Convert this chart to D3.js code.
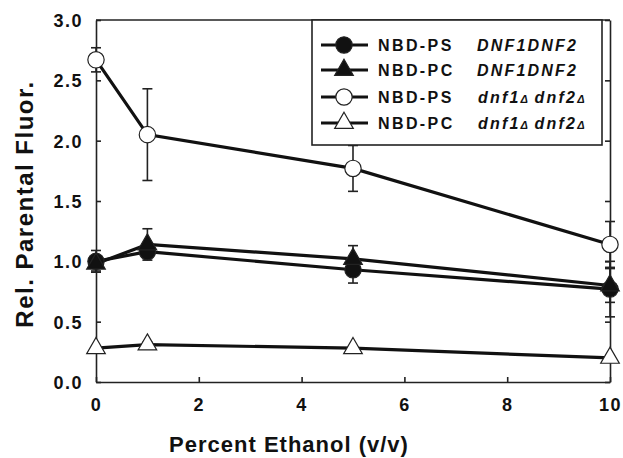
<!DOCTYPE html>
<html>
<head>
<meta charset="utf-8">
<script src="https://cdn.jsdelivr.net/npm/d3@7"></script>
<style>
  body { margin: 0; background: #fff; }
  text { font-family: "Liberation Sans", Arial, sans-serif; font-weight: bold; fill: #111; }
</style>
</head>
<body>
<div id="chart"></div>
<script>
// data
var ethanol = [0, 1, 5, 10];
var psWT = [1.00, 1.08, 0.93, 0.77];
var psWTErr = [0.09, 0.05, 0.11, 0.23];
var pcWT = [0.98, 1.14, 1.02, 0.80];
var pcWTErr = [0.06, 0.13, 0.11, 0.14];
var psMut = [2.67, 2.05, 1.77, 1.14];
var psMutErr = [0.10, 0.38, 0.19, 0.19];
var pcMut = [0.28, 0.31, 0.28, 0.20];
var pcMutErr = [0.02, 0.02, 0.02, 0.02];

var xTicks = [0, 2, 4, 6, 8, 10];
var yTicks = [0, 0.5, 1, 1.5, 2, 2.5, 3];

var series = [
  {name: "NBD-PS", strain: "DNF1DNF2", mut: false, values: psWT, err: psWTErr, shape: "circle", fill: "#111"},
  {name: "NBD-PC", strain: "DNF1DNF2", mut: false, values: pcWT, err: pcWTErr, shape: "triangle", fill: "#111"},
  {name: "NBD-PS", strain: "dnf1", mut: true, values: psMut, err: psMutErr, shape: "circle", fill: "#fff"},
  {name: "NBD-PC", strain: "dnf1", mut: true, values: pcMut, err: pcMutErr, shape: "triangle", fill: "#fff"}
];

// layout
var margin = {top: 20, right: 13, bottom: 76, left: 96},
    width = 623 - margin.left - margin.right,
    height = 458 - margin.top - margin.bottom;

var svg = d3.select("#chart")
  .append("svg")
    .attr("width", 623)
    .attr("height", 458)
  .append("g")
    .attr("transform", "translate(" + margin.left + "," + margin.top + ")");

var x = d3.scaleLinear().domain([0, 10]).range([0, width]);
var y = d3.scaleLinear().domain([0, 3]).range([height, 0]);

// axes, ticks pointing inward
var xAxis = svg.append("g")
  .attr("transform", "translate(0," + height + ")")
  .call(d3.axisBottom(x).tickValues(xTicks).tickSizeInner(-5).tickSizeOuter(0).tickPadding(16).tickFormat(d3.format("d")));
var yAxis = svg.append("g")
  .call(d3.axisLeft(y).tickValues(yTicks).tickSizeInner(-5).tickSizeOuter(0).tickPadding(13).tickFormat(d3.format(".1f")));
var yRight = svg.append("g")
  .attr("transform", "translate(" + width + ",0)")
  .call(d3.axisRight(y).tickValues(yTicks).tickSizeInner(-5).tickSizeOuter(0).tickFormat(""));

[xAxis, yAxis, yRight].forEach(function(a) {
  a.select(".domain").attr("stroke", "#222").attr("stroke-width", 1.6);
  a.selectAll(".tick line").attr("stroke", "#222").attr("stroke-width", 1.6);
  a.selectAll(".tick text")
    .style("font-size", "18px")
    .style("letter-spacing", "1.5px")
    .attr("fill", "#111");
});
yAxis.selectAll(".tick text").attr("dy", "0.36em");

svg.append("line")
  .attr("x1", 0).attr("x2", width)
  .attr("y1", 0).attr("y2", 0)
  .attr("stroke", "#222").attr("stroke-width", 1.6);

// titles
svg.append("text")
  .attr("x", 289 - margin.left)
  .attr("y", 452 - margin.top)
  .attr("text-anchor", "middle")
  .style("font-size", "22px")
  .style("letter-spacing", "1px")
  .text("Percent Ethanol (v/v)");

svg.append("text")
  .attr("transform", "translate(" + (33 - margin.left) + "," + (204 - margin.top) + ") rotate(-90)")
  .attr("text-anchor", "middle")
  .style("font-size", "24px")
  .style("letter-spacing", "1.5px")
  .text("Rel. Parental Fluor.");

// symbols
var circle = d3.symbol().type(d3.symbolCircle).size(210);
var triangle = d3.symbol().type(d3.symbolTriangle).size(150);
function symbolPath(s) { return s.shape === "circle" ? circle() : triangle(); }

var line = d3.line()
  .x(function(d, i) { return x(ethanol[i]); })
  .y(function(d) { return y(d); });

series.forEach(function(s) {
  svg.append("path")
    .attr("d", line(s.values))
    .attr("fill", "none")
    .attr("stroke", "#111")
    .attr("stroke-width", 3.2);
});

series.forEach(function(s) {
  var g = svg.append("g");
  s.values.forEach(function(v, i) {
    var cx = x(ethanol[i]), hi = y(v + s.err[i]), lo = y(v - s.err[i]);
    g.append("line").attr("x1", cx).attr("x2", cx).attr("y1", hi).attr("y2", lo)
      .attr("stroke", "#222").attr("stroke-width", 1.6);
    [hi, lo].forEach(function(yy) {
      g.append("line").attr("x1", cx - 5).attr("x2", cx + 5).attr("y1", yy).attr("y2", yy)
        .attr("stroke", "#222").attr("stroke-width", 1.6);
    });
  });
});

series.forEach(function(s) {
  svg.append("g").selectAll("path")
    .data(s.values)
    .join("path")
      .attr("transform", function(d, i) { return "translate(" + x(ethanol[i]) + "," + y(d) + ")"; })
      .attr("d", symbolPath(s))
      .attr("fill", s.fill)
      .attr("stroke", "#222")
      .attr("stroke-width", 1.2);
});

// legend
var legend = svg.append("g").attr("transform", "translate(" + (312 - margin.left) + ",0)");
legend.append("rect")
  .attr("width", 290).attr("height", 125)
  .attr("fill", "#fff").attr("stroke", "#222").attr("stroke-width", 1.6);

var rowY = [25, 50, 77, 103];
series.forEach(function(s, i) {
  var row = legend.append("g").attr("transform", "translate(0," + rowY[i] + ")");
  row.append("line").attr("x1", 9).attr("x2", 56).attr("y1", 0).attr("y2", 0)
    .attr("stroke", "#111").attr("stroke-width", 3.2);
  row.append("path")
    .attr("transform", "translate(32,0)")
    .attr("d", symbolPath(s))
    .attr("fill", s.fill).attr("stroke", "#222").attr("stroke-width", 1.2);
  row.append("text")
    .attr("x", 66).attr("y", 6)
    .style("font-size", "16px")
    .style("letter-spacing", "2.4px")
    .text(s.name);
  var t = row.append("text")
    .attr("x", s.mut ? 166 : 165).attr("y", 6)
    .style("font-size", "16px")
    .style("font-style", "italic")
    .style("letter-spacing", "2.2px");
  if (s.mut) {
    t.append("tspan").text("dnf1");
    t.append("tspan").style("font-size", "11px").style("letter-spacing", "0px").text("\u0394");
    t.append("tspan").text(" dnf2");
    t.append("tspan").style("font-size", "11px").style("letter-spacing", "0px").text("\u0394");
  } else {
    t.text(s.strain);
  }
});
</script>
</body>
</html>
